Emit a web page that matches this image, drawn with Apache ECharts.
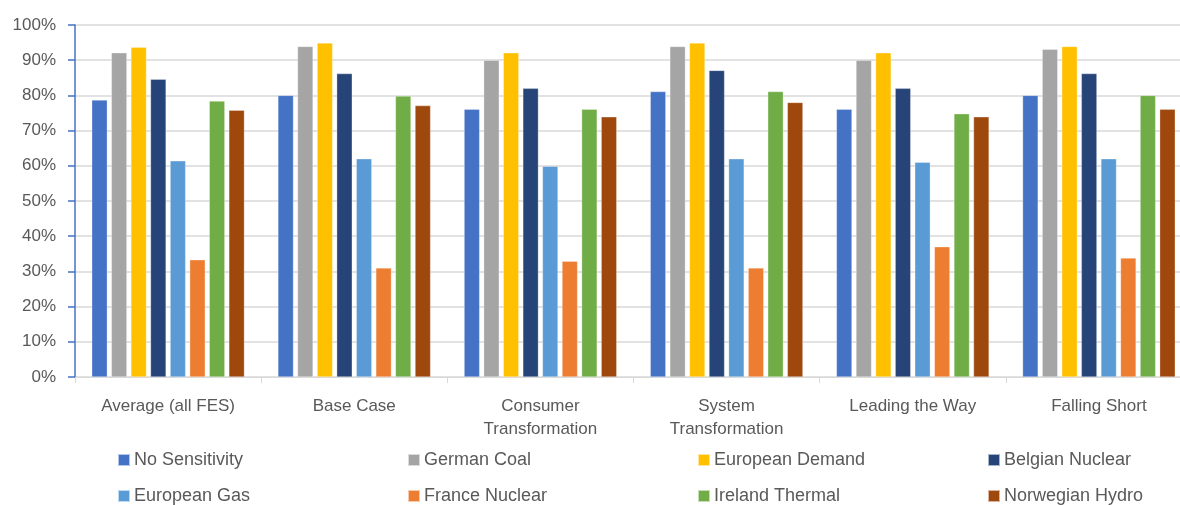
<!DOCTYPE html>
<html>
<head>
<meta charset="utf-8">
<script src="https://cdn.jsdelivr.net/npm/echarts@6/dist/echarts.min.js"></script>
<style>
  html, body { margin: 0; padding: 0; background: #fff; overflow: hidden; }
  /* plot area runs slightly past the right edge of the window */
  #chart { width: 1192px; height: 505px; }
</style>
</head>
<body>
<div id="chart"></div>
<script>
// Scenario groups along the x axis
const categories = [
  'Average (all FES)',
  'Base Case',
  'Consumer\nTransformation',
  'System\nTransformation',
  'Leading the Way',
  'Falling Short'
];

// Share of value by sensitivity (%), one entry per scenario
const noSensitivity   = [78.7, 80.0, 76.1, 81.1, 76.1, 80.0];
const germanCoal      = [92.1, 93.9, 90.0, 93.9, 90.0, 93.1];
const europeanDemand  = [93.7, 94.9, 92.1, 94.9, 92.1, 93.9];
const belgianNuclear  = [84.6, 86.2, 82.0, 87.1, 82.0, 86.2];
const europeanGas     = [61.4, 62.0, 59.9, 62.0, 61.0, 62.0];
const franceNuclear   = [33.3, 31.0, 32.9, 31.0, 37.0, 33.8];
const irelandThermal  = [78.4, 79.8, 76.1, 81.1, 74.8, 80.0];
const norwegianHydro  = [75.8, 77.1, 73.9, 78.0, 73.9, 76.1];

const seriesNames = [
  'No Sensitivity', 'German Coal', 'European Demand', 'Belgian Nuclear',
  'European Gas', 'France Nuclear', 'Ireland Thermal', 'Norwegian Hydro'
];
const seriesValues = [
  noSensitivity, germanCoal, europeanDemand, belgianNuclear,
  europeanGas, franceNuclear, irelandThermal, norwegianHydro
];
const seriesColors = [
  '#4472C4', '#A5A5A5', '#FFC000', '#264478',
  '#5B9BD5', '#ED7D31', '#70AD47', '#9E480E'
];

const FONT = '"Liberation Sans", Arial, sans-serif';
const TEXT = '#595959';

// Legend laid out as a 4 x 2 grid of single-item legends
const legendCols = [117, 407, 697, 987];
const legendRows = [451, 487];
const legends = seriesNames.map((name, i) => ({
  data: [name],
  left: legendCols[i % 4],
  top: legendRows[Math.floor(i / 4)],
  icon: 'rect',
  itemWidth: 12,
  itemHeight: 12,
  itemGap: 0,
  padding: 0,
  selectedMode: false,
  textStyle: { color: TEXT, fontSize: 18, fontFamily: FONT, padding: [0, 0, 0, -1] }
}));

const chart = echarts.init(document.getElementById('chart'), null, { renderer: 'canvas' });
chart.setOption({
  animation: false,
  color: seriesColors,
  legend: legends,
  grid: { left: 75, top: 25, right: 0, height: 352, containLabel: false },
  xAxis: {
    type: 'category',
    data: categories,
    axisLine: { lineStyle: { color: '#D9D9D9', width: 1 } },
    axisTick: { show: true, length: 6, lineStyle: { color: '#D9D9D9' } },
    axisLabel: {
      color: TEXT, fontSize: 17, fontFamily: FONT, margin: 18, lineHeight: 23,
      interval: 0
    }
  },
  yAxis: {
    type: 'value',
    min: 0, max: 100, interval: 10,
    axisLine: { show: true, lineStyle: { color: '#4472C4', width: 1.5 } },
    axisTick: { show: true, length: 7, inside: false, lineStyle: { color: '#4472C4', width: 1.5 } },
    splitLine: { lineStyle: { color: '#D9D9D9', width: 1.5 } },
    axisLabel: {
      color: TEXT, fontSize: 17, fontFamily: FONT, margin: 19,
      formatter: v => v + '%'
    }
  },
  series: seriesNames.map((name, i) => ({
    name: name,
    type: 'bar',
    data: seriesValues[i],
    barGap: '26%',
    barCategoryGap: '18%',
    itemStyle: { color: seriesColors[i], borderColor: 'rgba(255,255,255,0.6)', borderWidth: 0.5 }
  }))
});
</script>
</body>
</html>
